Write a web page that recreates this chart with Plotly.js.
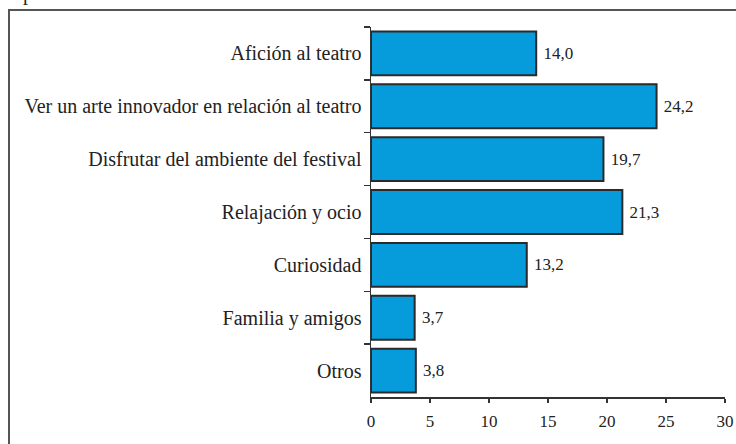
<!DOCTYPE html>
<html>
<head>
<meta charset="utf-8">
<script src="https://cdn.plot.ly/plotly-3.0.1.min.js"></script>
<style>html,body{margin:0;padding:0;background:#fff;}#chart{width:736px;height:444px;}</style>
</head>
<body>
<div id="chart"></div>
<script>
const categories = [
  "Afición al teatro",
  "Ver un arte innovador en relación al teatro",
  "Disfrutar del ambiente del festival",
  "Relajación y ocio",
  "Curiosidad",
  "Familia y amigos",
  "Otros"
];
const values = [14.0, 24.2, 19.7, 21.3, 13.2, 3.7, 3.8];
const valueLabels = ["14,0", "24,2", "19,7", "21,3", "13,2", "3,7", "3,8"];
const xTicks = [0, 5, 10, 15, 20, 25, 30];

const FONT = "Liberation Serif";
const L = 371, R = 11, T = 27, B = 47;
const W = 736, H = 444;
const pw = W - L - R, ph = H - T - B;

const trace = {
  type: "bar",
  orientation: "h",
  y: categories,
  x: values,
  text: valueLabels.map(s => " " + s),
  textposition: "outside",
  cliponaxis: false,
  textfont: {family: FONT, size: 17, color: "#222"},
  marker: {color: "#069cdc", line: {color: "#2a2a2a", width: 2}},
  hoverinfo: "none"
};

const layout = {
  width: W, height: H,
  margin: {l: L, r: R, t: T, b: B, pad: 0},
  paper_bgcolor: "#fff",
  plot_bgcolor: "#fff",
  showlegend: false,
  bargap: 0.17,
  font: {family: FONT, size: 17, color: "#222"},
  xaxis: {
    range: [0, 30],
    tickvals: xTicks,
    ticktext: xTicks.map(String),
    showgrid: false,
    zeroline: false,
    showline: true,
    linecolor: "#333",
    linewidth: 1.5,
    ticks: "outside",
    ticklen: 4,
    tickcolor: "#333",
    tickwidth: 1.5,
    ticklabelstandoff: 4,
    tickfont: {family: FONT, size: 17, color: "#222"}
  },
  yaxis: {
    type: "category",
    autorange: "reversed",
    showgrid: false,
    zeroline: false,
    showline: true,
    linecolor: "#333",
    linewidth: 1.5,
    ticks: "outside",
    tickson: "boundaries",
    ticklen: 6,
    tickcolor: "#333",
    tickwidth: 1.5,
    ticklabelstandoff: 4,
    tickfont: {family: FONT, size: 20, color: "#222"}
  },
  shapes: [{
    type: "rect", xref: "paper", yref: "paper",
    x0: (9 - L) / pw, x1: 1.2,
    y0: -0.3, y1: 1 + (T - 10) / ph,
    line: {color: "#555", width: 2}
  }],
  annotations: [{
    xref: "paper", yref: "paper",
    x: (22 - L) / pw, y: 1 + (T - 6) / ph,
    xanchor: "left", yanchor: "bottom",
    showarrow: false, borderpad: 0,
    text: "p",
    font: {family: FONT, size: 20, color: "#222"}
  }]
};

Plotly.newPlot("chart", [trace], layout, {staticPlot: true, displayModeBar: false});
</script>
</body>
</html>
